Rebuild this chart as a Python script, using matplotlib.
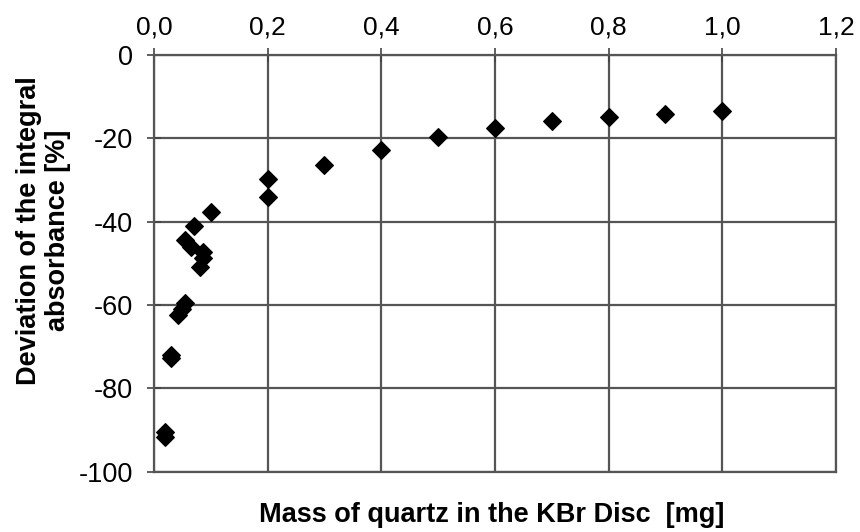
import numpy as np
import matplotlib.pyplot as plt
from matplotlib.ticker import FuncFormatter

plt.rcParams['font.family'] = ['Liberation Sans', 'DejaVu Sans']
plt.rcParams['axes.unicode_minus'] = False

# mass of quartz [mg] and deviation of integral absorbance [%]
mass = [0.02, 0.02, 0.03, 0.03, 0.043, 0.05, 0.055, 0.055, 0.066, 0.07,
        0.081, 0.086, 0.086, 0.1, 0.2, 0.2, 0.3, 0.4, 0.5, 0.6,
        0.7, 0.8, 0.9, 1.0]
deviation = [-90.4, -91.7, -71.9, -72.7, -62.5, -61.0, -59.5, -44.4, -46.0, -41.0,
             -50.8, -47.2, -48.7, -37.8, -29.8, -34.0, -26.4, -22.8, -19.6, -17.6,
             -15.8, -15.0, -14.1, -13.4]

xticks = [0.0, 0.2, 0.4, 0.6, 0.8, 1.0, 1.2]
yticks = [0, -20, -40, -60, -80, -100]

fig = plt.figure(figsize=(8.6, 5.32), dpi=100)
ax = fig.add_axes([0.179, 0.113, 0.793, 0.784])

ax.scatter(mass, deviation, marker='D', s=80, color='black', zorder=3)

ax.set_xlim(0, 1.2)
ax.set_ylim(-100, 0)
ax.set_xticks(xticks)
ax.set_yticks(yticks)
ax.xaxis.set_major_formatter(FuncFormatter(lambda v, p: ('%.1f' % v).replace('.', ',')))
ax.xaxis.tick_top()
ax.tick_params(axis='both', direction='inout', length=10, color='#444444', width=1.2)
ax.tick_params(axis='x', labelsize=19, pad=6)
ax.tick_params(axis='y', labelsize=19.5, pad=10)
ax.grid(True, color='#555555', linewidth=1.6)
ax.set_axisbelow(True)
for s in ax.spines.values():
    s.set_color('#555555')
    s.set_linewidth(1.6)

fig.text(0.572, 0.032, 'Mass of quartz in the KBr Disc  [mg]', ha='center', va='center',
         fontsize=19.5, fontweight='bold')
fig.text(0.051, 0.567, 'Deviation of the integral\nabsorbance [%]', ha='center', va='center',
         rotation=90, fontsize=19.5, fontweight='bold', linespacing=1.15)

plt.savefig('out.png', dpi=100)
